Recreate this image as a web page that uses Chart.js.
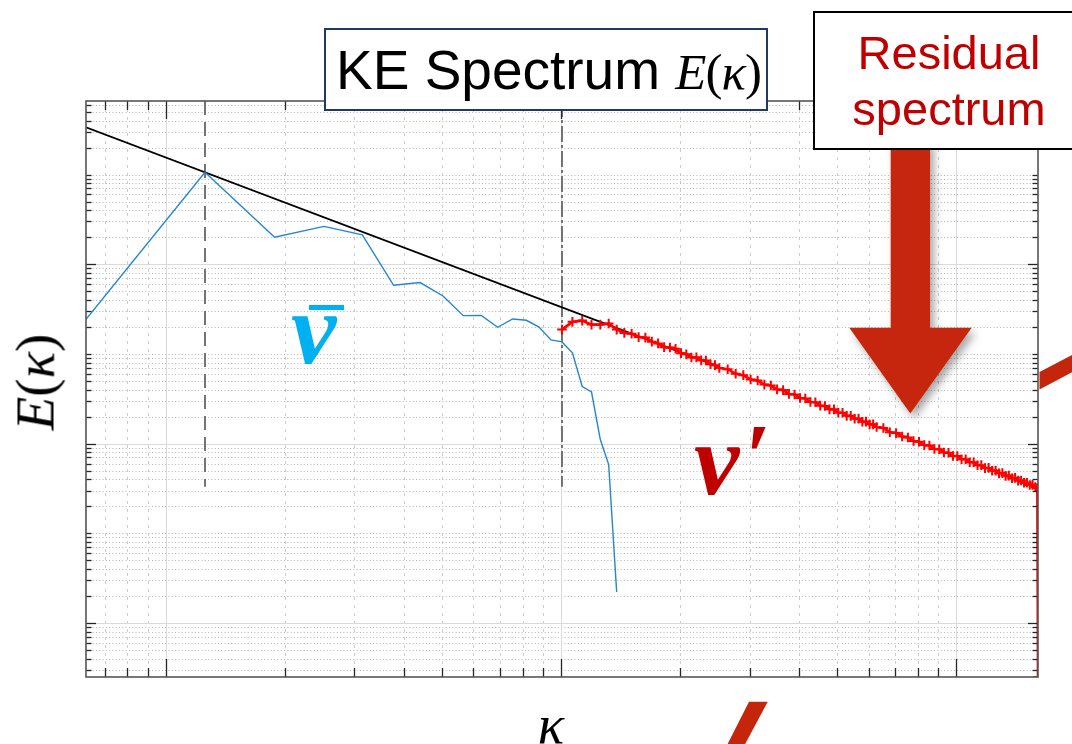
<!DOCTYPE html>
<html>
<head>
<meta charset="utf-8">
<script src="https://cdn.jsdelivr.net/npm/chart.js@4.4.1/dist/chart.umd.min.js"></script>
<style>
  html, body { margin: 0; padding: 0; background: #fff; overflow: hidden; }
  #wrap { position: relative; width: 1072px; height: 744px; overflow: hidden; }
  #plot { position: absolute; left: 0; top: 0; width: 1072px; height: 744px; }
  svg { position: absolute; left: 0; top: 0; }
  .box { position: absolute; background: #fff; box-sizing: border-box; }
  .txt { position: absolute; white-space: nowrap; }
  .math { font-family: 'Liberation Serif', serif; }
  .math i { font-style: italic; }
  .sym { font-family: 'Liberation Serif', serif; font-style: italic; font-weight: bold; }
</style>
</head>
<body>
<div id="wrap">
  <div id="plot"><canvas id="spectrum"></canvas></div>

  <svg width="1072" height="744">
    <defs>
      <filter id="shadow" x="-20%" y="-20%" width="150%" height="150%">
        <feDropShadow dx="4" dy="5" stdDeviation="4" flood-color="#000" flood-opacity="0.35"/>
      </filter>
    </defs>
    <!-- big arrow pointing at the residual spectrum -->
    <polygon fill="#c5260b" filter="url(#shadow)"
      points="890.7,140 930,140 930,327.7 971.7,327.7 910.3,413.5 849.3,327.7 890.7,327.7"/>
    <!-- pieces of slide strokes peeking out -->
    <polygon fill="#c5260b" points="749,701.7 767.7,701.7 743,748 725.6,748"/>
    <polygon fill="#c5260b" points="1039.5,372 1076,353 1076,370 1039.5,389.5"/>
  </svg>

  <div class="box" style="left:324px;top:28px;width:444px;height:83px;border:2.5px solid #1f3864;"></div>
  <div class="txt" style="left:336px;top:43px;font:55px/55px 'Liberation Sans',sans-serif;color:#000;">KE Spectrum <span class="math" style="font-size:51px;letter-spacing:-1px;"><i>E</i>(<i>κ</i>)</span></div>

  <div class="box" style="left:813px;top:11px;width:290px;height:139px;border:2px solid #000;"></div>
  <div class="txt" style="left:813px;top:25px;width:272px;text-align:center;font:47px/56.4px 'Liberation Sans',sans-serif;color:#c00000;">Residual<br>spectrum</div>

  <div class="txt sym" style="left:291px;top:278px;font-size:102px;line-height:102px;color:#00b0f0;">v</div>
  <div style="position:absolute;left:309px;top:305px;width:35px;height:5px;background:#00b0f0;"></div>

  <div class="txt sym" style="left:694px;top:409px;font-size:102px;line-height:102px;color:#c00000;">v<span style="font-size:92px;position:relative;top:-7px;left:5px;">′</span></div>

  <div class="txt math" style="left:34.7px;top:382px;font-size:55px;line-height:55px;color:#000;transform:translate(-50%,-50%) rotate(-90deg);"><i>E</i>(<i>κ</i>)</div>
  <div class="txt math" style="left:551px;top:697px;font-size:55px;line-height:55px;color:#000;transform:translateX(-50%);"><i>κ</i></div>
</div>

<script>
// wavenumber step: kappa = n * DK
const DK = 2 * Math.PI / 10;

// axis limits
const X_MIN = DK;
const X_MAX = 256 * DK;
const Y_MIN = 2.5e-5;
const Y_MAX = 66;

// grid decades
const xDecades = [0.1, 1, 10, 100];
const xMajor = [1, 10, 100];
const yDecades = [1e-5, 1e-4, 1e-3, 1e-2, 1e-1, 1, 10];
const yMajor = [1e-4, 1e-2, 1];

// mean field spectrum (v bar)
const blueN = [1, 2, 3, 4, 5, 6, 7, 8, 9, 10, 11, 12, 13, 14, 15, 16, 17, 18, 19, 20, 21, 22];
const blueE = [0.243, 10.58, 2.00, 2.64, 2.12, 0.582, 0.624, 0.442, 0.267, 0.269, 0.198,
  0.245, 0.237, 0.199, 0.143, 0.136, 0.103, 0.0433, 0.0376, 0.0111, 0.00583, 0.000222];

// -5/3 reference line
const blackN = [1, 40];
const blackE = [33.6, 0.0718];

// residual spectrum (v prime)
const redN = [16, 17, 18, 19, 20, 21, 22, 23, 24, 25, 26, 27, 28, 29, 30, 31, 32, 33, 34, 35,
  36, 37, 38, 39, 40, 42, 44, 46, 48, 50, 52, 54, 56, 58, 60, 62, 64, 66, 68, 70, 72, 74, 76,
  78, 80, 82, 84, 86, 88, 90, 92, 94, 96, 98, 100, 104, 108, 112, 116, 120, 124, 128, 132,
  136, 140, 144, 148, 152, 156, 160, 164, 168, 172, 176, 180, 184, 188, 192, 196, 200, 204,
  208, 212, 216, 220, 224, 228, 232, 236, 240, 244, 248, 252, 255, 256];
const redE = [0.1867, 0.2276, 0.2352, 0.2123, 0.2123, 0.2179, 0.1867, 0.1715, 0.168, 0.154,
  0.152, 0.137, 0.131, 0.119, 0.118, 0.114, 0.102, 0.0989, 0.0913, 0.0915, 0.0847, 0.0843,
  0.0766, 0.0749, 0.0696, 0.0675, 0.0600, 0.0580, 0.0519, 0.0505, 0.0455, 0.0444, 0.0402,
  0.0395, 0.0358, 0.0353, 0.0322, 0.0318, 0.0291, 0.0289, 0.0265, 0.0263, 0.0241, 0.0241,
  0.0221, 0.0221, 0.0204, 0.0204, 0.0189, 0.0190, 0.0175, 0.0176, 0.0164, 0.0164, 0.0153,
  0.0149, 0.0134, 0.0131, 0.0120, 0.0117, 0.0107, 0.0105, 0.00962, 0.00952, 0.00872,
  0.00866, 0.00795, 0.00791, 0.00728, 0.00726, 0.00670, 0.00670, 0.00619, 0.00620, 0.00573,
  0.00575, 0.00533, 0.00536, 0.00498, 0.00500, 0.00466, 0.00469, 0.00437, 0.00440, 0.00411,
  0.00415, 0.00387, 0.00388, 0.00366, 0.00366, 0.00346, 0.00347, 0.00328, 0.00320, 2.5e-5];

// vertical markers (mode numbers) and their lower end
const markN = [2, 16];
const markBottom = 0.0033;

function toPoints(ns, es) {
  return ns.map((n, i) => ({ x: n * DK, y: es[i] }));
}

function minorValues(decades, lo, hi) {
  const out = [];
  decades.forEach(d => {
    for (let m = 2; m <= 9; m++) {
      const v = m * d;
      if (v > lo && v < hi) out.push(v);
    }
  });
  return out;
}

function seg(ctx, x1, y1, x2, y2) {
  ctx.beginPath();
  ctx.moveTo(x1, y1);
  ctx.lineTo(x2, y2);
  ctx.stroke();
}

// MATLAB-like grid, box and inward ticks
const matlabGrid = {
  id: 'matlabGrid',
  beforeDatasetsDraw(chart) {
    const { ctx, chartArea: a, scales: { x, y } } = chart;
    const xMinor = minorValues(xDecades, X_MIN, X_MAX);
    const yMinor = minorValues(yDecades, Y_MIN, Y_MAX)
      .concat(yDecades.filter(d => !yMajor.includes(d) && d > Y_MIN && d < Y_MAX));
    ctx.save();
    ctx.lineWidth = 1;

    ctx.strokeStyle = '#cdcdcd';
    ctx.setLineDash([3, 5]);
    xMinor.forEach(v => {
      const px = Math.round(x.getPixelForValue(v)) + 0.5;
      seg(ctx, px, a.top, px, a.bottom);
    });

    ctx.strokeStyle = '#b4b4b4';
    ctx.setLineDash([1, 2.3]);
    yMinor.forEach(v => {
      const py = Math.round(y.getPixelForValue(v)) + 0.5;
      seg(ctx, a.left, py, a.right, py);
    });

    ctx.setLineDash([]);
    ctx.strokeStyle = '#dadada';
    xMajor.forEach(v => {
      const px = Math.round(x.getPixelForValue(v)) + 0.5;
      seg(ctx, px, a.top, px, a.bottom);
    });
    yMajor.forEach(v => {
      const py = Math.round(y.getPixelForValue(v)) + 0.5;
      seg(ctx, a.left, py, a.right, py);
    });
    ctx.restore();
  },
  afterDatasetsDraw(chart) {
    const { ctx, chartArea: a, scales: { x, y } } = chart;
    const xMinor = minorValues(xDecades, X_MIN, X_MAX);
    const yMinor = minorValues(yDecades, Y_MIN, Y_MAX)
      .concat(yDecades.filter(d => !yMajor.includes(d) && d > Y_MIN && d < Y_MAX));
    ctx.save();
    ctx.setLineDash([]);
    ctx.strokeStyle = '#262626';
    ctx.lineWidth = 1.3;
    const xTick = (v, len) => {
      const px = Math.round(x.getPixelForValue(v)) + 0.5;
      seg(ctx, px, a.bottom, px, a.bottom - len);
      seg(ctx, px, a.top, px, a.top + len);
    };
    const yTick = (v, len) => {
      const py = Math.round(y.getPixelForValue(v)) + 0.5;
      seg(ctx, a.left, py, a.left + len, py);
      seg(ctx, a.right, py, a.right - len, py);
    };
    xMinor.forEach(v => xTick(v, 9));
    xMajor.forEach(v => xTick(v, 18));
    yMinor.forEach(v => yTick(v, 5.5));
    yMajor.forEach(v => yTick(v, 10));

    ctx.strokeStyle = '#555';
    ctx.lineWidth = 1.6;
    ctx.strokeRect(a.left, a.top, a.right - a.left, a.bottom - a.top);
    ctx.restore();
  }
};

new Chart(document.getElementById('spectrum'), {
  type: 'scatter',
  data: {
    datasets: [
      {
        label: "v'",
        data: toPoints(redN, redE),
        showLine: true,
        borderColor: '#ff0000',
        borderWidth: 2.6,
        pointStyle: 'cross',
        pointRadius: 4.8,
        pointBorderWidth: 2,
        pointBorderColor: '#ff0000',
        order: 1
      },
      {
        label: 'v bar',
        data: toPoints(blueN, blueE),
        showLine: true,
        borderColor: '#2585cf',
        borderWidth: 1.4,
        pointRadius: 0,
        order: 2
      },
      {
        label: '-5/3',
        data: toPoints(blackN, blackE),
        showLine: true,
        borderColor: '#000',
        borderWidth: 1.8,
        pointRadius: 0,
        order: 3
      },
      {
        label: 'forcing scale',
        data: [{ x: markN[0] * DK, y: Y_MAX }, { x: markN[0] * DK, y: markBottom }],
        showLine: true,
        borderColor: '#666',
        borderWidth: 1.8,
        borderDash: [14, 7],
        pointRadius: 0,
        order: 4
      },
      {
        label: 'filter cutoff',
        data: [{ x: markN[1] * DK, y: Y_MAX }, { x: markN[1] * DK, y: markBottom }],
        showLine: true,
        borderColor: '#666',
        borderWidth: 1.8,
        borderDash: [16, 3, 3, 3],
        pointRadius: 0,
        order: 5
      }
    ]
  },
  options: {
    responsive: true,
    maintainAspectRatio: false,
    animation: false,
    events: [],
    layout: { padding: { left: 86, right: 34, top: 101, bottom: 67 } },
    plugins: { legend: { display: false }, tooltip: { enabled: false } },
    scales: {
      x: { type: 'logarithmic', bounds: 'data', min: X_MIN, max: X_MAX, display: false },
      y: { type: 'logarithmic', bounds: 'data', min: Y_MIN, max: Y_MAX, display: false }
    }
  },
  plugins: [matlabGrid]
});
</script>
</body>
</html>
